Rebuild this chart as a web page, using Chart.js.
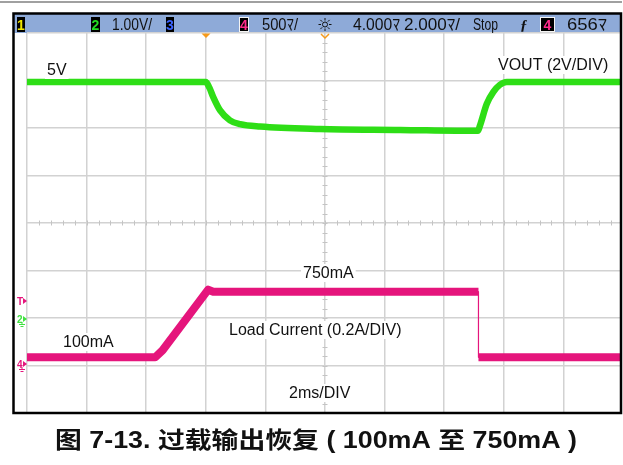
<!DOCTYPE html>
<html>
<head>
<meta charset="utf-8">
<script src="https://cdn.jsdelivr.net/npm/chart.js@4/dist/chart.umd.min.js"></script>
<style>
  html, body { margin: 0; padding: 0; background: #fff; }
  canvas { display: block; }
</style>
</head>
<body>
<canvas id="scope" width="623" height="465"></canvas>
<script>
// VOUT (channel 2, volts) vs time (ms)
const vTime = [0, 6.0, 6.12, 6.25, 6.48, 6.81, 7.15, 7.82, 9.83, 12.52, 15.13, 15.2, 15.43, 15.65, 15.87, 16.1, 20];
const vOut  = [5.0, 5.0, 4.88, 4.68, 4.40, 4.19, 4.11, 4.06, 4.01, 3.99, 3.97, 4.08, 4.54, 4.79, 4.94, 5.0, 5.0];

// load current (channel 4, amps) vs time (ms)
const iTimeOn  = [0, 4.3, 4.55, 6.08, 6.25, 15.15];
const iLoadOn  = [0.1, 0.1, 0.17, 0.77, 0.75, 0.75];
const iTimeOff = [15.15, 20];
const iLoadOff = [0.1, 0.1];
const iTimeEdge = [15.15, 15.15];
const iLoadEdge = [0.75, 0.1];

// screen divisions
const timeTicks = [0, 2, 4, 6, 8, 10, 12, 14, 16, 18, 20];
const divTicks = [0, 1, 2, 3, 4, 5, 6, 7, 8];

const labels = [
  { text: '5V', x: 47, y: 75 },
  { text: 'VOUT (2V/DIV)', x: 498, y: 70 },
  { text: '750mA', x: 303, y: 278 },
  { text: 'Load Current (0.2A/DIV)', x: 229, y: 335 },
  { text: '100mA', x: 63, y: 347 },
  { text: '2ms/DIV', x: 289, y: 398 }
];
const caption = '图 7-13. 过载输出恢复 ( 100mA 至 750mA )';

const GREEN = '#2ede16';
const PINK = '#e5157c';
const GRID = '#d2d2d2';

function pts(xs, ys) {
  return xs.map((x, i) => ({ x: x, y: ys[i] }));
}

function fitText(ctx, txt, x, y, w) {
  const m = ctx.measureText(txt).width;
  ctx.save();
  ctx.translate(x, y);
  ctx.scale(w / m, 1);
  ctx.fillText(txt, 0, 0);
  ctx.restore();
}

function chBox(ctx, x, w, num, color, outline) {
  ctx.fillStyle = '#000';
  ctx.fillRect(x, 17, w, 15);
  if (outline) {
    ctx.strokeStyle = '#f4f4f4';
    ctx.lineWidth = 1;
    ctx.strokeRect(x + 0.5, 17.5, w - 1, 14);
  }
  ctx.fillStyle = color;
  ctx.font = 'bold 14px "Liberation Sans"';
  ctx.textAlign = 'center';
  ctx.fillText(num, x + w / 2, 29.5);
  ctx.textAlign = 'left';
}

const scopePlugin = {
  id: 'scope',
  beforeDraw(chart) {
    const ctx = chart.ctx;
    ctx.save();
    ctx.fillStyle = '#fff';
    ctx.fillRect(0, 0, chart.width, chart.height);
    // top rule
    ctx.fillStyle = '#a0a0a0';
    ctx.fillRect(0, 1, chart.width, 2);
    // header bar
    ctx.fillStyle = '#8eaad8';
    ctx.fillRect(14, 14, 607, 19);
    ctx.restore();
  },
  beforeDatasetsDraw(chart) {
    const ctx = chart.ctx;
    const a = chart.chartArea;
    const cx = chart.scales.x.getPixelForValue(10);
    const cy = chart.scales.y.getPixelForValue(4);
    ctx.save();
    ctx.strokeStyle = '#c4c4c4';
    ctx.lineWidth = 1;
    ctx.beginPath();
    const dx = (a.right - a.left) / 50;
    for (let i = 1; i < 50; i++) {
      const x = Math.round(a.left + i * dx) + 0.5;
      ctx.moveTo(x, cy - 2.5);
      ctx.lineTo(x, cy + 2.5);
    }
    const dy = (a.bottom - a.top) / 40;
    for (let i = 1; i < 40; i++) {
      const y = Math.round(a.top + i * dy) + 0.5;
      ctx.moveTo(cx - 2.5, y);
      ctx.lineTo(cx + 2.5, y);
    }
    ctx.stroke();
    ctx.restore();
  },
  afterDatasetsDraw(chart) {
    const ctx = chart.ctx;
    ctx.save();

    // annotation labels
    ctx.font = '16px "Liberation Sans", Arial, sans-serif';
    ctx.textBaseline = 'alphabetic';
    labels.forEach(l => {
      const w = ctx.measureText(l.text).width;
      ctx.fillStyle = '#fff';
      ctx.fillRect(l.x - 2, l.y - 14, w + 4, 18);
      ctx.fillStyle = '#111';
      ctx.fillText(l.text, l.x, l.y);
    });

    // right margin outside frame
    ctx.fillStyle = '#fff';
    ctx.fillRect(622, 0, 10, 420);

    // frame
    ctx.strokeStyle = '#000';
    ctx.lineWidth = 2.5;
    ctx.strokeRect(13.5, 13.5, 607.5, 399.5);

    // header contents
    chBox(ctx, 17, 8, '1', '#f0e600', false);
    chBox(ctx, 91, 9, '2', '#22dd22', false);
    chBox(ctx, 166, 8, '3', '#3a63ff', false);
    chBox(ctx, 239, 10, '4', '#ff2a8a', true);
    chBox(ctx, 540, 15, '4', '#ff2a8a', true);
    ctx.fillStyle = '#111';
    ctx.font = '16px "Liberation Sans", "Noto Sans CJK JP", sans-serif';
    fitText(ctx, '1.00V/', 112, 30, 40);
    fitText(ctx, '500ﾏ/', 262, 30, 36);
    fitText(ctx, '4.000ﾏ', 353, 30, 47);
    fitText(ctx, '2.000ﾏ/', 404, 30, 56);
    fitText(ctx, 'Stop', 473, 30, 25);
    fitText(ctx, '656ﾏ', 567, 30, 40);
    ctx.font = 'italic bold 15px "Liberation Serif", serif';
    ctx.fillText('ƒ', 520, 30);

    // sun icon
    ctx.strokeStyle = '#111';
    ctx.lineWidth = 1;
    ctx.beginPath();
    ctx.arc(325, 24.5, 2.5, 0, Math.PI * 2);
    for (let k = 0; k < 8; k++) {
      const ang = k * Math.PI / 4;
      ctx.moveTo(325 + Math.cos(ang) * 4, 24.5 + Math.sin(ang) * 4);
      ctx.lineTo(325 + Math.cos(ang) * 6.5, 24.5 + Math.sin(ang) * 6.5);
    }
    ctx.stroke();

    // trigger / reference markers
    ctx.fillStyle = '#f59a1c';
    ctx.beginPath();
    ctx.moveTo(201.5, 33.5); ctx.lineTo(210.5, 33.5); ctx.lineTo(206, 38);
    ctx.fill();
    ctx.strokeStyle = '#f59a1c';
    ctx.lineWidth = 1.5;
    ctx.beginPath();
    ctx.moveTo(321, 34); ctx.lineTo(325, 38); ctx.lineTo(329, 34);
    ctx.stroke();

    // left channel markers
    function marker(txt, color, y, ground) {
      ctx.fillStyle = color;
      ctx.font = 'bold 10px "Liberation Sans"';
      ctx.fillText(txt, 17, y + 3.5);
      ctx.beginPath();
      ctx.moveTo(23, y - 3); ctx.lineTo(27, y); ctx.lineTo(23, y + 3);
      ctx.fill();
      if (ground) {
        ctx.strokeStyle = color;
        ctx.lineWidth = 1;
        ctx.beginPath();
        ctx.moveTo(19, y + 5.5); ctx.lineTo(25, y + 5.5);
        ctx.moveTo(22, y + 3); ctx.lineTo(22, y + 5.5);
        ctx.moveTo(20.5, y + 7.5); ctx.lineTo(23.5, y + 7.5);
        ctx.stroke();
      }
    }
    marker('T', PINK, 301, false);
    marker('2', '#3fe23f', 319, true);
    marker('4', PINK, 364, true);

    // caption
    ctx.fillStyle = '#111';
    ctx.font = 'bold 23px "Liberation Sans", "Noto Sans CJK SC", sans-serif';
    fitText(ctx, caption, 55, 448, 522);

    ctx.restore();
  }
};

const lineStyle = {
  showLine: true,
  pointRadius: 0,
  tension: 0,
  borderCapStyle: 'butt',
  borderJoinStyle: 'round',
  fill: false
};

new Chart(document.getElementById('scope').getContext('2d'), {
  type: 'scatter',
  data: {
    datasets: [
      Object.assign({ data: pts(iTimeEdge, iLoadEdge), yAxisID: 'yI', borderColor: PINK, borderWidth: 1.2 }, lineStyle),
      Object.assign({ data: pts(iTimeOn, iLoadOn), yAxisID: 'yI', borderColor: PINK, borderWidth: 8 }, lineStyle),
      Object.assign({ data: pts(iTimeOff, iLoadOff), yAxisID: 'yI', borderColor: PINK, borderWidth: 8 }, lineStyle),
      Object.assign({ data: pts(vTime, vOut), yAxisID: 'yV', borderColor: GREEN, borderWidth: 6.5 }, lineStyle, { cubicInterpolationMode: 'monotone' })
    ]
  },
  options: {
    responsive: false,
    animation: false,
    layout: { padding: { left: 27, top: 33, right: 0, bottom: 52 } },
    plugins: { legend: { display: false }, tooltip: { enabled: false } },
    scales: {
      x: {
        type: 'linear', min: 0, max: 20,
        afterBuildTicks: s => { s.ticks = timeTicks.map(v => ({ value: v })); },
        ticks: { display: false },
        grid: { color: GRID, lineWidth: 1.5, drawTicks: false },
        border: { display: false }
      },
      y: {
        type: 'linear', min: 0, max: 8,
        afterBuildTicks: s => { s.ticks = divTicks.map(v => ({ value: v })); },
        ticks: { display: false },
        grid: { color: GRID, lineWidth: 1.5, drawTicks: false },
        border: { display: false }
      },
      yV: { type: 'linear', display: false, min: -1.97, max: 6.03 },
      yI: { type: 'linear', display: false, min: -0.452, max: 3.314 }
    }
  },
  plugins: [scopePlugin]
});
</script>
</body>
</html>
